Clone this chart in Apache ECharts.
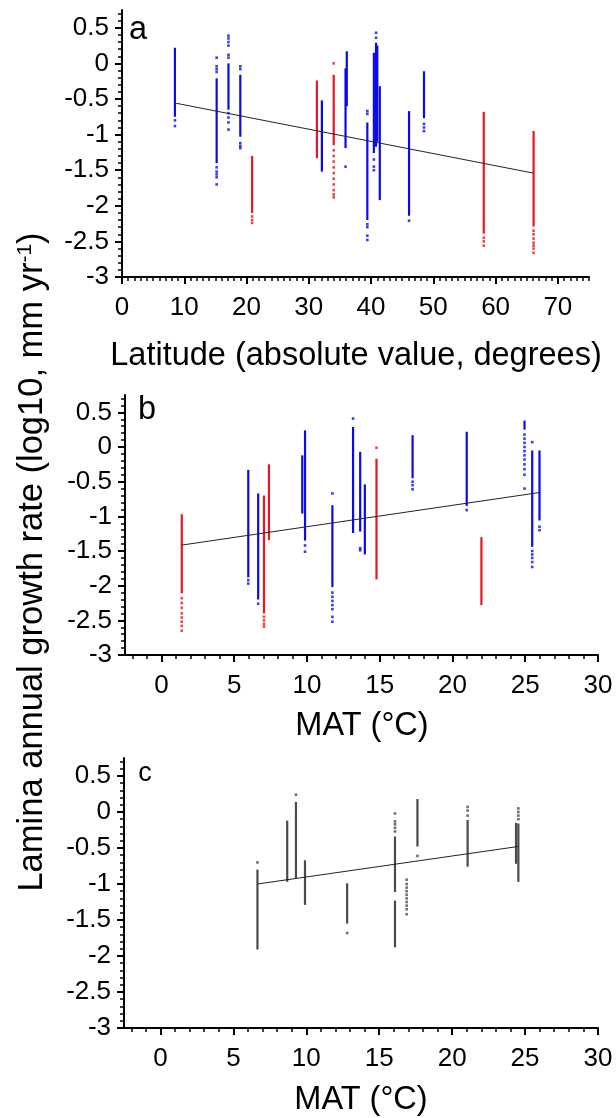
<!DOCTYPE html>
<html><head><meta charset="utf-8">
<script src="https://cdn.jsdelivr.net/npm/echarts@6/dist/echarts.min.js"></script>
<style>html,body{margin:0;padding:0;background:#fff}#c{width:616px;height:1118px}</style>
</head><body><div id="c"></div>
<script>
const FONT = '"Liberation Sans", Arial, sans-serif';
const BLUE = '#0a0af0', RED = '#e8161e', GRAY = '#4a4a4a';

// tick labels
const yTicks = [-3, -2.5, -2, -1.5, -1, -0.5, 0, 0.5];
const xTicksLat = [0, 10, 20, 30, 40, 50, 60, 70];
const xTicksMAT = [0, 5, 10, 15, 20, 25, 30];

// Panel a: latitude vs growth rate  (segments: [x, yTop, yBottom]; dots: [x, y])
const aBlueSeg = [[8.5,0.22,-0.75],[15.2,-0.21,-1.40],[17.1,0.0,-0.65],[19.0,-0.16,-1.03],[32.1,-0.52,-1.52],[36.1,0.17,-0.60],[35.9,-0.07,-1.19],[39.4,-0.83,-2.20],[40.45,0.15,-1.26],[40.8,0.29,-1.17],[41.0,0.25,-1.10],[41.4,-0.32,-1.92],[46.1,-0.67,-2.14],[48.5,-0.11,-0.77]];
const aRedSeg = [[20.9,-1.30,-2.10],[31.3,-0.24,-1.33],[34.0,-0.16,-1.15],[58.1,-0.68,-2.39],[66.1,-0.95,-2.29]];
const aBlueDots = [[8.5,-0.80],[8.5,-0.88],[15.2,0.08],[15.2,-0.04],[15.2,-0.08],[15.2,-0.12],[15.2,-1.46],[15.2,-1.52],[15.2,-1.56],[15.2,-1.60],[15.2,-1.70],[17.1,0.39],[17.1,0.35],[17.1,0.30],[17.1,0.25],[17.1,0.12],[17.1,0.08],[17.1,-0.70],[17.1,-0.76],[17.1,-0.83],[17.1,-0.93],[19.0,-0.04],[19.0,-0.08],[19.0,-1.12],[19.0,-1.16],[19.0,-1.19],[35.9,-1.45],[39.4,-0.67],[39.4,-0.71],[39.4,-2.26],[39.4,-2.30],[39.4,-2.42],[39.4,-2.48],[40.45,-1.35],[40.45,-1.45],[40.45,-1.50],[40.8,0.43],[40.8,0.36],[46.1,-2.21],[48.5,-0.85],[48.5,-0.90],[48.5,-0.95]];
const aRedDots = [[20.9,-2.15],[20.9,-2.20],[20.9,-2.24],[34.0,0.0],[34.0,-1.22],[34.0,-1.30],[34.0,-1.38],[34.0,-1.46],[34.0,-1.54],[34.0,-1.62],[34.0,-1.70],[34.0,-1.78],[34.0,-1.84],[34.0,-1.88],[58.1,-2.45],[58.1,-2.50],[58.1,-2.56],[66.1,-2.35],[66.1,-2.40],[66.1,-2.46],[66.1,-2.52],[66.1,-2.56],[66.1,-2.60],[66.1,-2.66]];
const aFit = [[8.7,-0.56],[66.0,-1.54]];

// Panel b: MAT vs growth rate
const bBlueSeg = [[5.97,-0.33,-1.88],[6.65,-0.67,-2.20],[9.68,-0.12,-0.96],[9.87,0.24,-1.35],[11.75,-0.84,-2.02],[13.17,0.29,-1.24],[13.66,-0.07,-1.22],[13.98,-0.54,-1.55],[17.26,0.17,-0.45],[20.98,0.22,-0.85],[24.95,0.38,0.25],[25.48,-0.05,-1.44],[25.98,-0.05,-1.06]];
const bRedSeg = [[1.4,-0.97,-2.11],[7.05,-0.70,-2.40],[7.39,-0.25,-1.34],[14.78,-0.17,-1.91],[21.99,-1.30,-2.28]];
const bBlueDots = [[5.97,-1.92],[5.97,-1.97],[6.65,-2.26],[9.87,-1.42],[9.87,-1.51],[11.75,-0.67],[11.75,-2.10],[11.75,-2.16],[11.75,-2.22],[11.75,-2.28],[11.75,-2.34],[11.75,-2.45],[11.75,-2.52],[13.17,0.41],[13.66,-1.46],[13.66,-1.49],[17.26,-0.50],[17.26,-0.55],[17.26,-0.61],[20.98,-0.91],[24.95,0.18],[24.95,0.12],[24.95,0.06],[24.95,0.0],[24.95,-0.06],[24.95,-0.12],[24.95,-0.18],[24.95,-0.25],[24.95,-0.32],[24.95,-0.40],[24.95,-0.60],[25.48,0.07],[25.48,-1.50],[25.48,-1.55],[25.48,-1.60],[25.48,-1.66],[25.48,-1.73],[25.98,-1.15],[25.98,-1.20]];
const bRedDots = [[1.4,-2.18],[1.4,-2.25],[1.4,-2.32],[1.4,-2.40],[1.4,-2.46],[1.4,-2.52],[1.4,-2.58],[1.4,-2.65],[7.05,-2.45],[7.05,-2.50],[7.05,-2.55],[7.05,-2.59],[14.78,-0.01]];
const bFit = [[1.4,-1.415],[26.0,-0.656]];

// Panel c: MAT vs growth rate (second data set)
const cSeg = [[6.65,-0.80,-1.91],[8.69,-0.12,-0.97],[9.29,0.14,-0.92],[9.91,-0.67,-1.29],[12.8,-0.99,-1.55],[16.08,-0.34,-1.11],[16.08,-1.23,-1.88],[17.62,0.18,-0.48],[21.06,-0.11,-0.76],[24.54,-0.16,-0.97],[24.38,-0.15,-0.72]];
const cDots = [[6.65,-0.70],[9.29,0.24],[12.8,-1.68],[16.08,-0.02],[16.08,-0.13],[16.08,-0.17],[16.08,-0.22],[16.08,-0.27],[16.88,-0.94],[16.88,-1.00],[16.88,-1.05],[16.88,-1.10],[16.88,-1.15],[16.88,-1.20],[16.88,-1.25],[16.88,-1.30],[16.88,-1.35],[16.88,-1.42],[17.62,-0.61],[21.06,0.07],[21.06,0.02],[21.06,-0.05],[24.54,0.05],[24.54,0.0],[24.54,-0.05],[24.54,-0.10]];
const cFit = [[6.65,-1.00],[24.5,-0.48]];

// minor tick positions
function steps(a, b, s) { const r = []; for (let i = 0; a + i * s <= b + 1e-9; i++) r.push(+(a + i * s).toFixed(4)); return r; }
const yMinor = steps(-3, 0.75, 0.1);
const xMinorLat = steps(0, 75, 1);
const xMinorMAT = steps(-2, 30, 1);

const LBL = 26, TITLE = 32.5, YTITLE = 34.5;
const grids = [
  {left: 122, top: 10, width: 467, height: 267},
  {left: 125, top: 395, width: 473, height: 260},
  {left: 124, top: 758, width: 474, height: 270}
];
const xr = [[0, 75, xTicksLat, xMinorLat], [-2.5, 30, xTicksMAT, xMinorMAT], [-2.5, 30, xTicksMAT, xMinorMAT]];

const xAxis = [], yAxis = [];
grids.forEach((g, i) => {
  const [mn, mx, tk, mt] = xr[i];
  xAxis.push({type: 'value', gridIndex: i, min: mn, max: mx, position: 'bottom',
    axisLine: {show: true, onZero: false, lineStyle: {color: '#000', width: 2}},
    axisTick: {show: true, length: 7, customValues: tk, lineStyle: {color: '#000', width: 2}},
    axisLabel: {customValues: tk, fontSize: LBL, fontFamily: FONT, color: '#000', margin: 18},
    splitLine: {show: false}});
  xAxis.push({type: 'value', gridIndex: i, min: mn, max: mx, position: 'bottom',
    axisLine: {show: false, onZero: false},
    axisTick: {show: true, length: 4, customValues: mt, lineStyle: {color: '#000', width: 1.5}},
    axisLabel: {show: false}, splitLine: {show: false}});
  yAxis.push({type: 'value', gridIndex: i, min: -3, max: 0.75, position: 'left',
    axisLine: {show: true, onZero: false, lineStyle: {color: '#000', width: 2}},
    axisTick: {show: true, length: 7, customValues: yTicks, lineStyle: {color: '#000', width: 2}},
    axisLabel: {customValues: yTicks, fontSize: LBL, fontFamily: FONT, color: '#000', margin: 13},
    splitLine: {show: false}});
  yAxis.push({type: 'value', gridIndex: i, min: -3, max: 0.75, position: 'left',
    axisLine: {show: false, onZero: false},
    axisTick: {show: true, length: 4, customValues: yMinor, lineStyle: {color: '#000', width: 1.5}},
    axisLabel: {show: false}, splitLine: {show: false}});
});

function segRender(w) {
  return function (params, api) {
    const p1 = api.coord([api.value(0), api.value(1)]);
    const p2 = api.coord([api.value(0), api.value(2)]);
    return {type: 'rect', shape: {x: p1[0] - w / 2, y: p1[1], width: w, height: p2[1] - p1[1]},
      style: {fill: api.visual('color')}};
  };
}
function seg(i, data, color) {
  return {type: 'custom', xAxisIndex: 2 * i, yAxisIndex: 2 * i, data, encode: {x: 0, y: [1, 2]},
    renderItem: segRender(2.2), itemStyle: {color}, silent: true};
}
function dots(i, data, color) {
  return {type: 'scatter', xAxisIndex: 2 * i, yAxisIndex: 2 * i, data, symbol: 'rect', symbolSize: 2.6,
    itemStyle: {color}, silent: true};
}
function fit(i, data) {
  return {type: 'line', xAxisIndex: 2 * i, yAxisIndex: 2 * i, data, symbol: 'none',
    lineStyle: {color: '#222', width: 1}, silent: true};
}

const series = [
  seg(0, aBlueSeg, BLUE), seg(0, aRedSeg, RED), dots(0, aBlueDots, BLUE), dots(0, aRedDots, RED), fit(0, aFit),
  seg(1, bBlueSeg, BLUE), seg(1, bRedSeg, RED), dots(1, bBlueDots, BLUE), dots(1, bRedDots, RED), fit(1, bFit),
  seg(2, cSeg, GRAY), dots(2, cDots, GRAY), fit(2, cFit)
];

const tstyle = (t, size) => ({text: t, font: size + 'px ' + FONT, fill: '#000', textAlign: 'center', textVerticalAlign: 'middle'});
const graphic = [
  {type: 'text', x: 138, y: 30, style: tstyle('a', TITLE)},
  {type: 'text', x: 147, y: 410, style: tstyle('b', TITLE)},
  {type: 'text', x: 145, y: 774, style: tstyle('c', 27)},
  {type: 'text', x: 356, y: 356, style: tstyle('Latitude (absolute value, degrees)', TITLE)},
  {type: 'text', x: 362, y: 726, style: tstyle('MAT (\u00B0C)', TITLE)},
  {type: 'text', x: 361, y: 1100, style: tstyle('MAT (\u00B0C)', TITLE)},
  {type: 'text', x: 32, y: 562, rotation: Math.PI / 2,
    style: {text: 'Lamina annual growth rate (log10, mm yr{sup|-1})', font: YTITLE + 'px ' + FONT, fill: '#000',
      textAlign: 'center', textVerticalAlign: 'middle',
      rich: {sup: {fontSize: 21, fontFamily: FONT, verticalAlign: 'top', lineHeight: 22}}}}
];

const chart = echarts.init(document.getElementById('c'), null, {renderer: 'canvas'});
chart.setOption({animation: false, backgroundColor: '#fff', grid: grids, xAxis, yAxis, series, graphic});
</script></body></html>
